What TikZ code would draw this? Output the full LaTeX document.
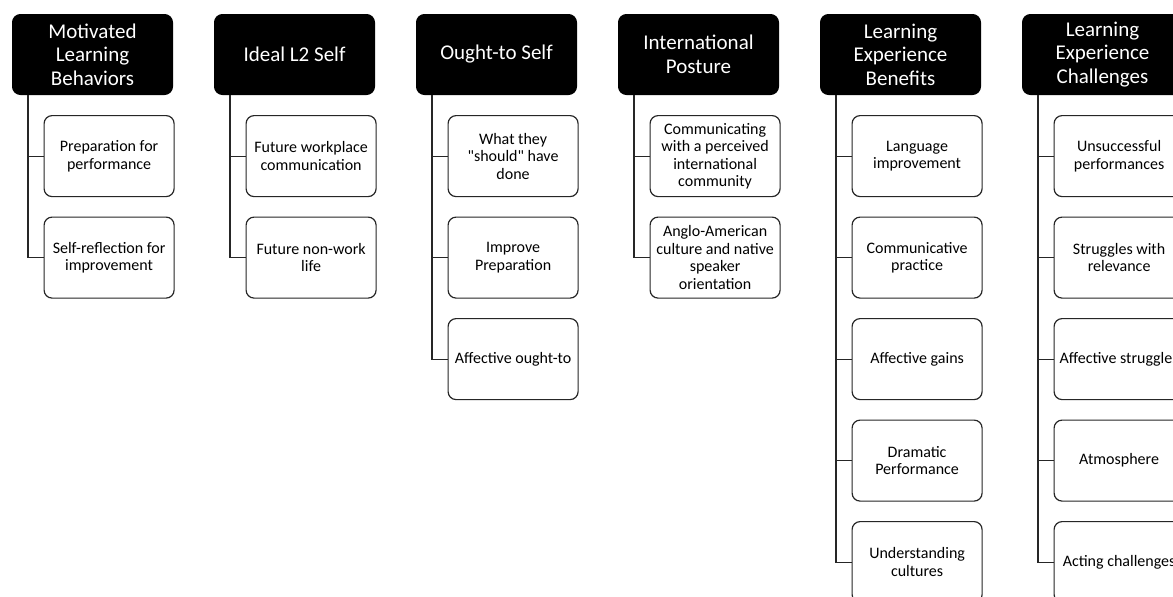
\documentclass[tikz,border=0pt]{standalone}
\usepackage{fontspec}
\setmainfont{Carlito}[Ligatures=TeXOff]
\definecolor{edge}{HTML}{262626}
\begin{document}
\begin{tikzpicture}[x=1pt,y=-1pt,
  hdr/.style={fill=black, draw=black, line width=1pt, rounded corners=8pt,
    minimum width=160pt, minimum height=80pt, text=white, align=center,
    font=\fontsize{21}{23.5}\selectfont, anchor=north west, inner sep=0pt},
  item/.style={draw=edge, line width=1.2pt, rounded corners=8pt, fill=white,
    minimum width=130pt, minimum height=81pt, align=center, text=black,
    font=\fontsize{16}{17.5}\selectfont, anchor=north west, inner sep=0pt},
  link/.style={draw=edge, line width=1.2pt}]
\clip (0,0) rectangle (1173,597);
\fill[white] (0,0) rectangle (1173,597);

% ---- Column 1
\node[hdr] (h1) at (12,14) {Motivated\\Learning\\Behaviors};
\node[item] (c11) at (43.5,115) {Preparation for\\performance};
\node[item] (c12) at (43.5,216.5) {Self-reflection for\\improvement};
\coordinate (v1) at ([xshift=16pt]h1.south west);
\draw[link] (v1) |- (c12.west);
\draw[link] (v1 |- c11.west) -- (c11.west);

% ---- Column 2
\node[hdr] (h2) at (214,14) {Ideal L2 Self};
\node[item] (c21) at (245.5,115) {Future workplace\\communication};
\node[item] (c22) at (245.5,216.5) {Future non-work\\life};
\coordinate (v2) at ([xshift=16pt]h2.south west);
\draw[link] (v2) |- (c22.west);
\draw[link] (v2 |- c21.west) -- (c21.west);

% ---- Column 3
\node[hdr] (h3) at (416,14) {Ought-to Self};
\node[item] (c31) at (447.5,115) {What they\\"should" have\\done};
\node[item] (c32) at (447.5,216.5) {Improve\\Preparation};
\node[item] (c33) at (447.5,318) {Affective ought-to};
\coordinate (v3) at ([xshift=16pt]h3.south west);
\draw[link] (v3) |- (c33.west);
\draw[link] (v3 |- c31.west) -- (c31.west);
\draw[link] (v3 |- c32.west) -- (c32.west);

% ---- Column 4
\node[hdr] (h4) at (618,14) {International\\Posture};
\node[item] (c41) at (649.5,115) {Communicating\\with a perceived\\international\\community};
\node[item] (c42) at (649.5,216.5) {Anglo-American\\culture and native\\speaker\\orientation};
\coordinate (v4) at ([xshift=16pt]h4.south west);
\draw[link] (v4) |- (c42.west);
\draw[link] (v4 |- c41.west) -- (c41.west);

% ---- Column 5
\node[hdr] (h5) at (820,14) {Learning\\Experience\\Benefits};
\node[item] (c51) at (851.5,115) {Language\\improvement};
\node[item] (c52) at (851.5,216.5) {Communicative\\practice};
\node[item] (c53) at (851.5,318) {Affective gains};
\node[item] (c54) at (851.5,419.5) {Dramatic\\Performance};
\node[item] (c55) at (851.5,521) {Understanding\\cultures};
\coordinate (v5) at ([xshift=16pt]h5.south west);
\draw[link] (v5) |- (c55.west);
\draw[link] (v5 |- c51.west) -- (c51.west);
\draw[link] (v5 |- c52.west) -- (c52.west);
\draw[link] (v5 |- c53.west) -- (c53.west);
\draw[link] (v5 |- c54.west) -- (c54.west);

% ---- Column 6
\node[hdr] (h6) at (1022,14) {Learning\\Experience\\Challenges};
\node[item] (c61) at (1053.5,115) {Unsuccessful\\performances};
\node[item] (c62) at (1053.5,216.5) {Struggles with\\relevance};
\node[item] (c63) at (1053.5,318) {Affective struggles};
\node[item] (c64) at (1053.5,419.5) {Atmosphere};
\node[item] (c65) at (1053.5,521) {Acting challenges};
\coordinate (v6) at ([xshift=16pt]h6.south west);
\draw[link] (v6) |- (c65.west);
\draw[link] (v6 |- c61.west) -- (c61.west);
\draw[link] (v6 |- c62.west) -- (c62.west);
\draw[link] (v6 |- c63.west) -- (c63.west);
\draw[link] (v6 |- c64.west) -- (c64.west);
\end{tikzpicture}
\end{document}
